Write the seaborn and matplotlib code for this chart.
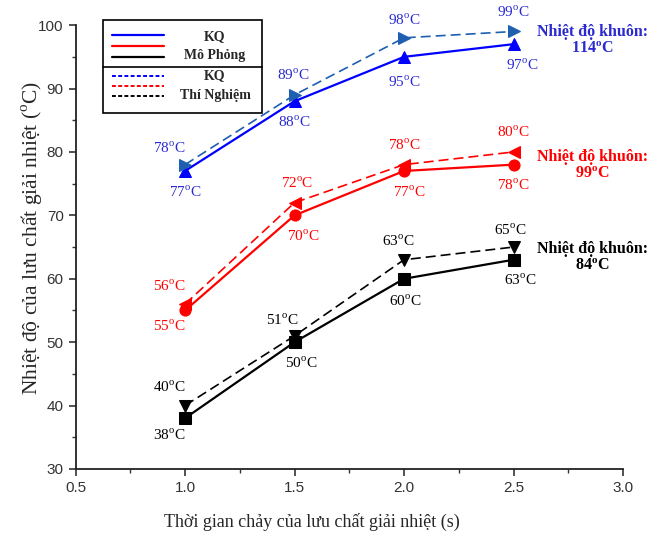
import seaborn as sns
import matplotlib.pyplot as plt
from matplotlib.lines import Line2D
from matplotlib.patches import Rectangle
from matplotlib.ticker import MultipleLocator

# Dữ liệu
time_s = [1.0, 1.5, 2.0, 2.5]

sim_114 = [77, 88, 95, 97]
exp_114 = [78, 89, 98, 99]
sim_99 = [55, 70, 77, 78]
exp_99 = [56, 72, 78, 80]
sim_84 = [38, 50, 60, 63]
exp_84 = [40, 51, 63, 65]

mold_labels = ["Nhiệt độ khuôn:\n114$^\\mathregular{o}$C",
               "Nhiệt độ khuôn:\n99$^\\mathregular{o}$C",
               "Nhiệt độ khuôn:\n84$^\\mathregular{o}$C"]

sns.set_style("ticks")
plt.rcParams['font.family'] = ['Liberation Serif', 'DejaVu Serif']
plt.rcParams['mathtext.fontset'] = 'custom'
plt.rcParams['mathtext.rm'] = 'Liberation Serif'

fig = plt.figure(figsize=(6.51, 5.35), dpi=100)
ax = fig.add_axes([0.116, 0.1234, 0.841, 0.8296])

# (values, color, marker, linestyle, text color, offsets in points)
series = [
    (sim_114, '#0000ff', '^', '-', '#2a2ad0', [(0, -15), (0, -15), (0, -18), (6, -15)]),
    (exp_114, '#1f5fb0', '>', (0, (6, 3)), '#2a2ad0', [(-11, 12), (-1, 14), (0, 13), (0, 14)]),
    (sim_99, '#ff0000', 'o', '-', '#ff0000', [(-11, -11), (6, -15), (4, -15), (0, -15)]),
    (exp_99, '#ff0000', '<', (0, (6, 3)), '#ff0000', [(-11, 13), (2, 14), (0, 14), (0, 14)]),
    (sim_84, '#000000', 's', '-', '#000000', [(-11, -12), (5, -15), (1, -16), (5, -15)]),
    (exp_84, '#000000', 'v', (0, (6, 3)), '#000000', [(-11, 13), (-9, 11), (-4, 13), (-2, 12)]),
]

for vals, col, mk, ls, tcol, offs in series:
    sns.lineplot(x=time_s, y=vals, ax=ax, color=col, marker=mk, linestyle=ls,
                 linewidth=1.6 if ls == '-' else 1.2, markersize=8,
                 markeredgecolor=col, markerfacecolor=col)
    for x, y, off in zip(time_s, vals, offs):
        ax.annotate(f"{y}$^\\mathregular{{o}}$C", (x, y), xytext=off,
                    textcoords='offset points', ha='center', va='center',
                    color=tcol, fontsize=11)

# Nhãn nhiệt độ khuôn
for lab, y, col in zip(mold_labels, [97.6, 77.9, 63.4], ['#2a2ad0', '#ff0000', '#000000']):
    ax.text(2.86, y, lab, ha='center', va='center', color=col, fontsize=11.5,
            fontweight='bold', clip_on=False, linespacing=1.05)

ax.set_xlim(0.5, 3.0)
ax.set_ylim(30, 100)
ax.xaxis.set_major_locator(MultipleLocator(0.5))
ax.xaxis.set_minor_locator(MultipleLocator(0.25))
ax.yaxis.set_major_locator(MultipleLocator(10))
ax.yaxis.set_minor_locator(MultipleLocator(5))
ax.tick_params(which='major', direction='out', length=5, width=1.2, color='#333333')
ax.tick_params(which='minor', direction='out', length=3, width=1.0, color='#333333')
for lab in ax.get_xticklabels() + ax.get_yticklabels():
    lab.set_fontfamily('Liberation Sans')
    lab.set_fontsize(11)
    lab.set_color('#333333')
sns.despine(ax=ax)
for sp in ['left', 'bottom']:
    ax.spines[sp].set_linewidth(1.3)
    ax.spines[sp].set_color('#222222')

ax.set_xlabel("Thời gian chảy của lưu chất giải nhiệt (s)", fontsize=13)
ax.set_ylabel("Nhiệt độ của lưu chất giải nhiệt ($^\\mathregular{o}$C)", fontsize=15.5)
ax.xaxis.set_label_coords(0.432, -0.1)
ax.yaxis.set_label_coords(-0.058, 0.52)

# Chú thích tự vẽ
W, H = 651, 535
def fx(px):
    return px / W
def fy(py):
    return 1 - py / H

fig.add_artist(Rectangle((fx(103), fy(113)), fx(262) - fx(103), fy(20) - fy(113),
                         transform=fig.transFigure, fill=False, lw=1.2, ec='black'))
fig.add_artist(Line2D([fx(103), fx(262)], [fy(67), fy(67)], transform=fig.transFigure,
                      color='black', lw=1.2))
for py, col in zip([35, 46, 57], ['#0000ff', '#ff0000', '#000000']):
    fig.add_artist(Line2D([fx(112), fx(164)], [fy(py), fy(py)], transform=fig.transFigure,
                          color=col, lw=1.6))
for py, col in zip([76, 86, 96], ['#0000ff', '#ff0000', '#000000']):
    fig.add_artist(Line2D([fx(112), fx(164)], [fy(py), fy(py)], transform=fig.transFigure,
                          color=col, lw=1.4, linestyle=(0, (2, 1.2))))
for py, txt in zip([37, 55, 76, 95], ["KQ", "Mô Phỏng", "KQ", "Thí Nghiệm"]):
    fig.text(fx(215), fy(py), txt, ha='center', va='center', fontsize=10,
             fontweight='bold')

fig.savefig("out.png", dpi=100)
